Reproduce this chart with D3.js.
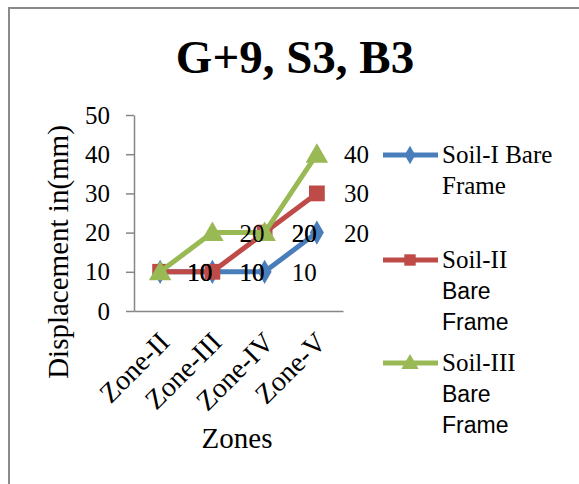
<!DOCTYPE html>
<html>
<head>
<meta charset="utf-8">
<script src="https://cdn.jsdelivr.net/npm/d3@7"></script>
<style>
  body { margin: 0; background: #fff; }
  svg text { fill: #000; }
</style>
</head>
<body>
<svg id="svg1" width="579" height="484"></svg>
<script>
var zones = ["Zone-II", "Zone-III", "Zone-IV", "Zone-V"];
var soil1 = [10, 10, 10, 20];
var soil2 = [10, 10, 20, 30];
var soil3 = [10, 20, 20, 40];
var yTicks = [0, 10, 20, 30, 40, 50];
var seriesNames = ["Soil-I Bare Frame", "Soil-II Bare Frame", "Soil-III Bare Frame"];
var legendLines = [["Soil-I Bare", "Frame"], ["Soil-II", "Bare", "Frame"], ["Soil-III", "Bare", "Frame"]];

var SERIF = "'Liberation Serif', 'Times New Roman', serif";
var SANS = "'Liberation Sans', Arial, sans-serif";

var colors = ["#4a7ebb", "#be4b48", "#98b954"];
var shapes = [d3.symbolDiamond, d3.symbolSquare, d3.symbolTriangle];
var series = [soil1, soil2, soil3].map(function(v, i) {
  return {name: seriesNames[i], values: v, color: colors[i], shape: shapes[i], legend: legendLines[i]};
});

var svg = d3.select("#svg1");

// chart frame
svg.append("rect")
  .attr("x", 9).attr("y", 8)
  .attr("width", 600).attr("height", 500)
  .attr("fill", "none")
  .attr("stroke", "#8a8a8a")
  .attr("stroke-width", 2);

var x = d3.scaleBand().domain(zones).range([134, 343]);
var y = d3.scaleLinear().domain([0, 50]).range([311, 115]);

// title
svg.append("text")
  .attr("x", 295).attr("y", 73)
  .attr("text-anchor", "middle")
  .attr("font-family", SERIF)
  .attr("font-size", 47).attr("font-weight", "bold")
  .text("G+9, S3, B3");

// y axis
var yAxis = svg.append("g")
  .attr("transform", "translate(134,0)")
  .call(d3.axisLeft(y).tickValues(yTicks).tickSize(8).tickSizeOuter(0).tickPadding(16));
yAxis.attr("font-family", SERIF).attr("font-size", 25);
yAxis.select(".domain").attr("stroke", "#868686").attr("stroke-width", 1.5);
yAxis.selectAll(".tick line").attr("stroke", "#868686").attr("stroke-width", 1.5);

// x axis
var xAxis = svg.append("g")
  .attr("transform", "translate(0,311)")
  .call(d3.axisBottom(x).tickSize(0).tickSizeOuter(0));
xAxis.attr("font-family", SERIF).attr("font-size", 28);
xAxis.select(".domain").attr("stroke", "#868686").attr("stroke-width", 1.5);
xAxis.selectAll(".tick text")
  .attr("text-anchor", "end")
  .attr("dy", null)
  .attr("y", 0)
  .attr("transform", "translate(11,33) rotate(-45)");

// axis titles
svg.append("text")
  .attr("transform", "translate(68,252) rotate(-90)")
  .attr("text-anchor", "middle")
  .attr("font-family", SERIF)
  .attr("font-size", 29)
  .text("Displacement in(mm)");

svg.append("text")
  .attr("x", 237).attr("y", 448)
  .attr("text-anchor", "middle")
  .attr("font-family", SERIF)
  .attr("font-size", 29)
  .text("Zones");

var cx = function(i) { return x(zones[i]) + x.bandwidth() / 2; };
var line = d3.line()
  .x(function(d, i) { return cx(i); })
  .y(function(d) { return y(d); });

var sg = svg.selectAll(".series")
  .data(series)
  .enter().append("g")
  .attr("class", "series");

sg.append("path")
  .attr("d", function(s) { return line(s.values); })
  .attr("fill", "none")
  .attr("stroke", function(s) { return s.color; })
  .attr("stroke-width", 5);

sg.each(function(s) {
  var size = s.shape === d3.symbolTriangle ? 220 : (s.shape === d3.symbolDiamond ? 170 : 250);
  var sym = d3.symbol().type(s.shape).size(size);
  d3.select(this).selectAll(".pt")
    .data(s.values)
    .enter().append("path")
    .attr("class", "pt")
    .attr("transform", function(d, i) { return "translate(" + cx(i) + "," + (y(d) + (s.shape === d3.symbolTriangle ? 2 : 0)) + ")"; })
    .attr("d", sym)
    .attr("fill", s.color);
});

// data labels
series.forEach(function(s) {
  svg.append("g").selectAll("text")
    .data(s.values)
    .enter().append("text")
    .attr("x", function(d, i) { return cx(i) + 27; })
    .attr("y", function(d) { return y(d) + 9; })
    .attr("font-family", SERIF)
    .attr("font-size", 25)
    .text(function(d) { return d; });
});

// legend
var legendY = [155, 260, 363];
var lg = svg.selectAll(".legend")
  .data(series)
  .enter().append("g")
  .attr("class", "legend")
  .attr("transform", function(s, i) { return "translate(0," + legendY[i] + ")"; });

lg.append("line")
  .attr("x1", 383).attr("x2", 438)
  .attr("y1", 0).attr("y2", 0)
  .attr("stroke", function(s) { return s.color; })
  .attr("stroke-width", 5);

lg.append("path")
  .attr("transform", function(s) { return "translate(410," + (s.shape === d3.symbolTriangle ? 1 : 0) + ")"; })
  .attr("d", function(s) { return d3.symbol().type(s.shape).size(s.shape === d3.symbolDiamond ? 100 : 130)(); })
  .attr("fill", function(s) { return s.color; });

lg.each(function(s, si) {
  d3.select(this).selectAll("text")
    .data(s.legend)
    .enter().append("text")
    .attr("x", 442)
    .attr("y", function(d, i) { return 8 + i * 31; })
    .attr("font-family", function(d, i) { return (si > 0 && i > 0) ? SANS : SERIF; })
    .attr("font-size", function(d, i) { return (si > 0 && i > 0) ? 23 : 25; })
    .text(function(d) { return d; });
});
</script>
</body>
</html>
